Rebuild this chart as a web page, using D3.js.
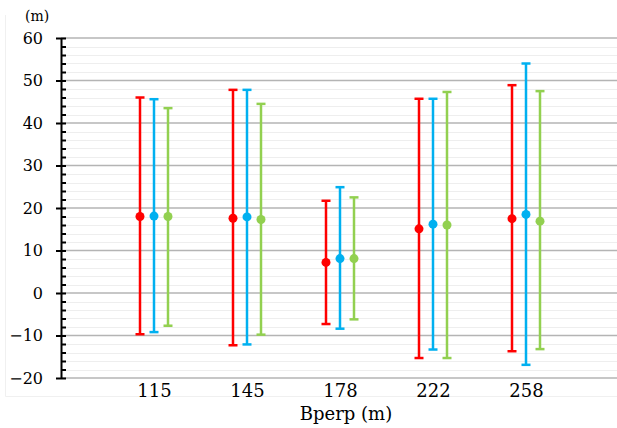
<!DOCTYPE html>
<html>
<head>
<meta charset="utf-8">
<script src="https://cdn.jsdelivr.net/npm/d3@7"></script>
<style>
  body { margin: 0; background: #fff; }
  svg { display: block; }
  text { font-family: "DejaVu Serif", "Liberation Serif", serif; fill: #000; }
</style>
</head>
<body>
<div id="chart"></div>
<script>
// DATA
const categories = ["115", "145", "178", "222", "258"];
const seriesNames = ["A", "B", "C"];
const seriesColors = ["#FF0000", "#00B0F0", "#92D050"];
// centre value, upper end, lower end for each series
const midA = [18.0, 17.6, 7.2, 15.1, 17.5];
const hiA  = [46.0, 47.8, 21.7, 45.7, 48.9];
const loA  = [-9.7, -12.3, -7.3, -15.3, -13.7];
const midB = [18.1, 17.9, 8.1, 16.2, 18.5];
const hiB  = [45.6, 47.8, 24.9, 45.7, 54.0];
const loB  = [-9.2, -12.1, -8.4, -13.3, -16.9];
const midC = [18.0, 17.3, 8.1, 16.0, 16.9];
const hiC  = [43.5, 44.5, 22.5, 47.3, 47.5];
const loC  = [-7.7, -9.8, -6.2, -15.3, -13.2];
const yMajorTicks = [-20, -10, 0, 10, 20, 30, 40, 50, 60];

const mids = [midA, midB, midC], his = [hiA, hiB, hiC], los = [loA, loB, loC];

// 1: SIZES
const W = 617, H = 428;
const plot = { left: 61, right: 619, top: 38, bottom: 378 };

const svg = d3.select("#chart").append("svg")
    .attr("width", W)
    .attr("height", H);

// faint chart frame
svg.append("path")
    .attr("d", `M5.5,15 V396.5 H${W}`)
    .attr("fill", "none")
    .attr("stroke", "#F0F0F0")
    .attr("stroke-width", 1);

// 2: SCALES
const x = d3.scalePoint()
    .domain(categories)
    .range([plot.left, plot.right])
    .padding(1);

const y = d3.scaleLinear()
    .domain([-20, 60])
    .range([plot.bottom, plot.top]);

const minorTicks = d3.range(-20, 61, 2);
const offset = 14;

// 3: GRID
svg.append("g")
    .selectAll("line")
    .data(minorTicks.filter(t => t % 10 !== 0))
    .join("line")
    .attr("x1", plot.left)
    .attr("x2", W)
    .attr("y1", d => Math.round(y(d)) + 0.5)
    .attr("y2", d => Math.round(y(d)) + 0.5)
    .attr("stroke", "#EEEEEE")
    .attr("stroke-width", 1);

svg.append("g")
    .selectAll("line")
    .data(yMajorTicks)
    .join("line")
    .attr("x1", plot.left)
    .attr("x2", W)
    .attr("y1", d => y(d))
    .attr("y2", d => y(d))
    .attr("stroke", "#B4B4B4")
    .attr("stroke-width", 1.5);

// 4: Y AXIS
const yLeft = svg.append("g")
    .attr("transform", `translate(${plot.left},0)`)
    .call(d3.axisLeft(y).tickValues(yMajorTicks).tickSizeInner(5).tickSizeOuter(0).tickPadding(13));
yLeft.select(".domain").attr("stroke", "#000").attr("stroke-width", 2);
yLeft.selectAll(".tick line").attr("stroke", "#000").attr("stroke-width", 2);
yLeft.selectAll(".tick text")
    .style("font-family", "'DejaVu Serif', serif")
    .style("font-size", "16px");

const yRight = svg.append("g")
    .attr("transform", `translate(${plot.left},0)`)
    .call(d3.axisRight(y).tickValues(minorTicks).tickSize(5).tickFormat(""));
yRight.select(".domain").remove();
yRight.selectAll(".tick line").attr("stroke", "#000").attr("stroke-width", 2);

// 5: X LABELS
svg.append("g")
    .attr("transform", `translate(0,${plot.bottom})`)
    .call(d3.axisBottom(x).tickSize(0).tickPadding(6))
    .call(g => g.select(".domain").remove())
    .selectAll("text")
    .style("font-family", "'DejaVu Serif', serif")
    .style("font-size", "18px");

// 6: ERROR BARS
seriesNames.forEach((name, s) => {
    const rows = categories.map((c, i) => ({ c, mid: mids[s][i], hi: his[s][i], lo: los[s][i] }));
    const dx = (s - 1) * offset;
    const g = svg.append("g").attr("class", "series-" + name);

    g.selectAll(".stem")
        .data(rows)
        .join("line")
        .attr("x1", d => x(d.c) + dx)
        .attr("x2", d => x(d.c) + dx)
        .attr("y1", d => y(d.hi))
        .attr("y2", d => y(d.lo))
        .attr("stroke", seriesColors[s])
        .attr("stroke-width", 2.5);

    ["hi", "lo"].forEach(k => {
        g.selectAll(".cap-" + k)
            .data(rows)
            .join("line")
            .attr("x1", d => x(d.c) + dx - 4.5)
            .attr("x2", d => x(d.c) + dx + 4.5)
            .attr("y1", d => y(d[k]))
            .attr("y2", d => y(d[k]))
            .attr("stroke", seriesColors[s])
            .attr("stroke-width", 2.5);
    });

    g.selectAll("circle")
        .data(rows)
        .join("circle")
        .attr("cx", d => x(d.c) + dx)
        .attr("cy", d => y(d.mid))
        .attr("r", 4.5)
        .attr("fill", seriesColors[s]);
});

// 7: LABELS
svg.append("text")
    .attr("x", 25)
    .attr("y", 21)
    .style("font-size", "14px")
    .text("(m)");

svg.append("text")
    .attr("x", 346)
    .attr("y", 420)
    .attr("text-anchor", "middle")
    .style("font-size", "18px")
    .text("Bperp (m)");
</script>
</body>
</html>
